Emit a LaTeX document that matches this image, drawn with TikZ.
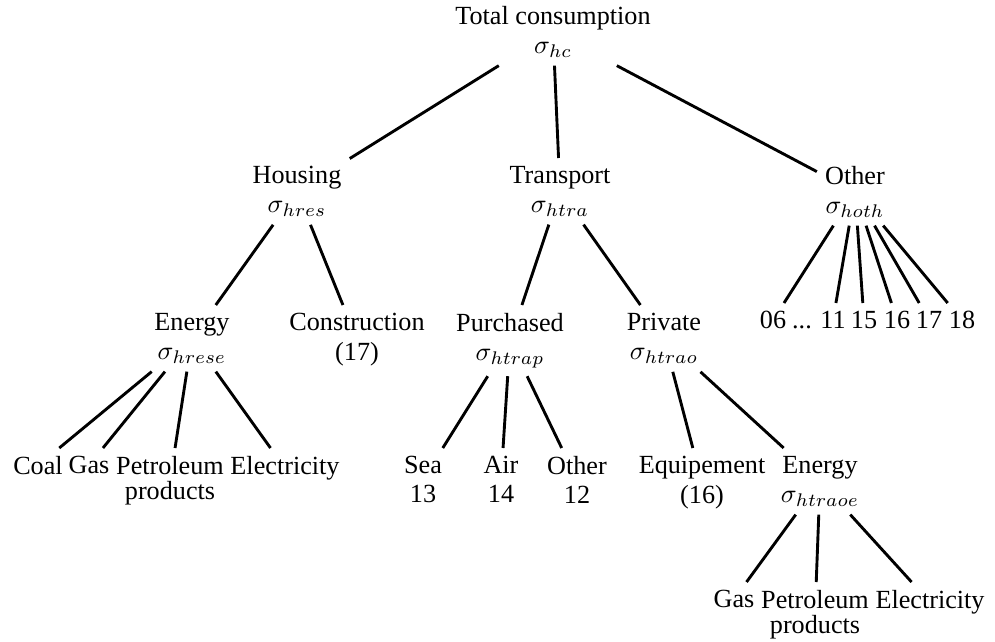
\documentclass[tikz,border=0pt]{standalone}
\usepackage{fontspec}
\setmainfont{Liberation Serif}
\usepackage{tikz}
\usetikzlibrary{positioning}

\begin{document}
\begin{tikzpicture}[x=0.382pt,y=-0.382pt,font={\fontsize{10pt}{11pt}\selectfont},
    cat/.style={anchor=north,align=center,inner sep=3pt},
    branch/.style={line width=1.1pt}]
  \useasboundingbox (0,0) rectangle (995,641);

  % top level
  \node[cat] (tot) at (553,-2) {Total consumption\\$\sigma_{hc}$};

  \node[cat] (hou) at (297,158) {Housing\\$\sigma_{hres}$};
  \node[cat] (tra) at (560,158) {Transport\\$\sigma_{htra}$};
  \node[cat] (oth) at (855,158) {Other\\$\sigma_{hoth}$};

  % housing
  \node[cat] (ene) at (192,305) {Energy\\$\sigma_{hrese}$};
  \node[cat] (con) at (357,305) {Construction\\[0.5pt](17)};
  \node[cat] (coal) at (38,448) {Coal};
  \node[cat] (gas) at (89,448) {Gas};
  \node[cat] (pet) at (170,448) {Petroleum\\[-1.5pt]products};
  \node[cat] (ele) at (285,448) {Electricity};

  % transport
  \node[cat] (pur) at (510,305) {Purchased\\$\sigma_{htrap}$};
  \node[cat] (pri) at (664,305) {Private\\$\sigma_{htrao}$};
  \node[cat] (sea) at (423,448) {Sea\\13};
  \node[cat] (air) at (501,448) {Air\\14};
  \node[cat] (oth2) at (577,448) {Other\\12};
  \node[cat] (equ) at (702,448) {Equipement\\[0.5pt](16)};
  \node[cat] (ene2) at (820,448) {Energy\\$\sigma_{htraoe}$};
  \node[cat] (gas2) at (734,582) {Gas};
  \node[cat] (pet2) at (815,582) {Petroleum\\[-1.5pt]products};
  \node[cat] (ele2) at (930,582) {Electricity};

  % other
  \node[cat] (n06) at (773,303) {06};
  \coordinate (dotsx) at (802,0);
  \node[anchor=base] (ndots) at (n06.base -| dotsx) {...};
  \node[cat] (n11) at (833,303) {11};
  \node[cat] (n15) at (864,303) {15};
  \node[cat] (n16) at (897,303) {16};
  \node[cat] (n17) at (929,303) {17};
  \node[cat] (n18) at (962,303) {18};

  \foreach \c in {hou,tra,oth} \draw[branch] (tot) -- (\c);
  \foreach \c in {ene,con} \draw[branch] (hou) -- (\c);
  \foreach \c in {coal,gas,pet,ele} \draw[branch] (ene) -- (\c);
  \foreach \c in {pur,pri} \draw[branch] (tra) -- (\c);
  \foreach \c in {sea,air,oth2} \draw[branch] (pur) -- (\c);
  \foreach \c in {equ,ene2} \draw[branch] (pri) -- (\c);
  \foreach \c in {gas2,pet2,ele2} \draw[branch] (ene2) -- (\c);
  \foreach \c in {n06,n11,n15,n16,n17,n18} \draw[branch] (oth) -- (\c);
\end{tikzpicture}
\end{document}
